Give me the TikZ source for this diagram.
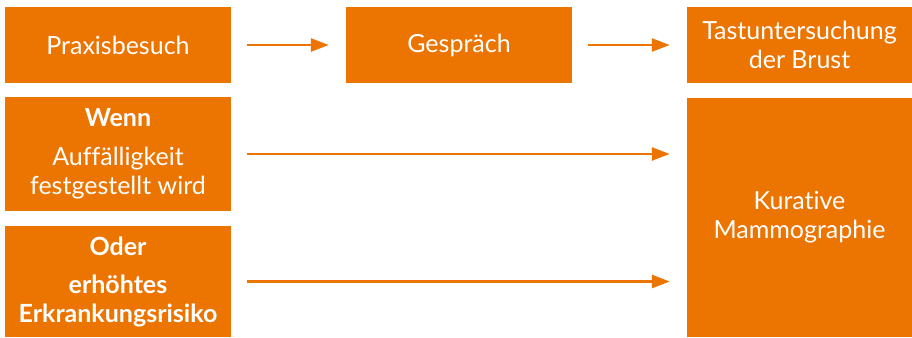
\documentclass[tikz,border=0pt]{standalone}
\usepackage{fontspec}
\setmainfont{Lato}[Ligatures={NoCommon}]
\usetikzlibrary{positioning}
\usetikzlibrary{arrows.meta}
\definecolor{mamorange}{RGB}{236,116,0}

\begin{document}
\begin{tikzpicture}[x=1pt, y=-1pt,
        box/.style={fill=mamorange, text=white, align=center, inner sep=0pt,
            font=\fontsize{25}{29}\selectfont},
        pfeil/.style={draw=mamorange, line width=2.6pt,
            -{Triangle[length=18pt, width=13pt]}, shorten <=16pt, shorten >=17pt}]
        % Frame (pixel units)
        \useasboundingbox (0,0) rectangle (912,337);

        % Top row
        \node[box, minimum width=226pt, minimum height=76pt] (praxis) at (118,45) {Praxisbesuch};
        \node[box, minimum width=226pt, minimum height=76pt] (gespraech) at (459,45) {Gespräch};
        \node[box, minimum width=225pt, minimum height=76pt] (tast) at (799.5,45) {Tastuntersuchung\\der Brust};

        % Left column
        \node[box, minimum width=226pt, minimum height=114pt] (wenn) at (118,154)
            {\textbf{Wenn}\\[10pt]Auffälligkeit\\festgestellt wird};
        \node[box, minimum width=226pt, minimum height=111pt] (oder) at (118,281.5)
            {\textbf{Oder}\\[9pt]\textbf{erhöhtes}\\\textbf{Erkrankungsrisiko}};

        % Right column
        \node[box, minimum width=225pt, minimum height=239pt] (kurativ) at (799.5,217.5)
            {Kurative\\Mammographie};

        % Arrows
        \draw[pfeil] (praxis) -- (gespraech);
        \draw[pfeil] (gespraech) -- (tast);
        \draw[pfeil] (wenn.east) -- (wenn.east -| kurativ.west);
        \draw[pfeil] (oder.east) -- (oder.east -| kurativ.west);
    \end{tikzpicture}
\end{document}
